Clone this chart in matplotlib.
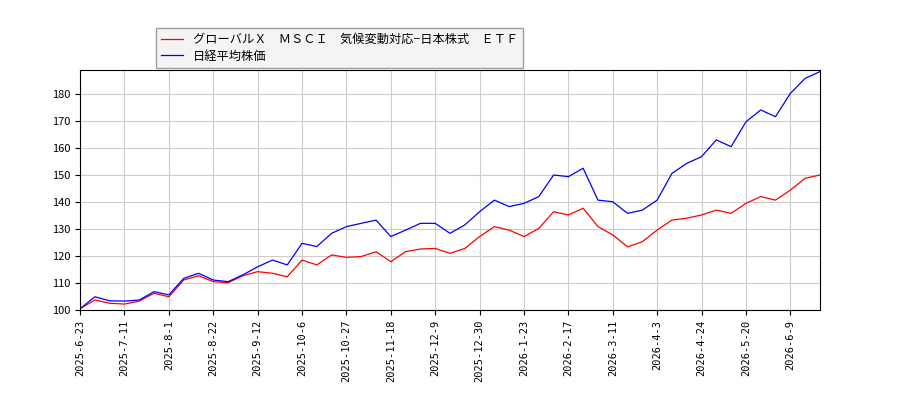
import matplotlib
matplotlib.use("Agg")
import matplotlib.pyplot as plt

plt.rcParams['font.family'] = ['Noto Sans CJK JP', 'DejaVu Sans']

tick_labels = ["2025-6-23", "2025-7-11", "2025-8-1", "2025-8-22", "2025-9-12", "2025-10-6",
               "2025-10-27", "2025-11-18", "2025-12-9", "2025-12-30", "2026-1-23", "2026-2-17",
               "2026-3-11", "2026-4-3", "2026-4-24", "2026-5-20", "2026-6-9"]
tick_index = [i * 15 for i in range(len(tick_labels))]

sample_index = [i * 5 for i in range(51)]
nikkei = [100.5, 104.9, 103.4, 103.3, 103.7, 106.8, 105.6, 111.7, 113.6, 111.1,
          110.5, 113.0, 116.0, 118.5, 116.7, 124.7, 123.5, 128.4, 130.9, 132.1,
          133.3, 127.2, 129.6, 132.1, 132.1, 128.4, 131.5, 136.4, 140.7, 138.3,
          139.5, 142.0, 150.0, 149.4, 152.5, 140.7, 140.1, 135.8, 137.0, 140.7,
          150.6, 154.3, 156.8, 163.0, 160.5, 169.7, 174.1, 171.6, 180.2, 185.8, 188.3]
etf = [100.5, 103.7, 102.5, 102.2, 103.3, 106.2, 104.9, 111.1, 112.7, 110.5,
       110.1, 112.7, 114.2, 113.6, 112.3, 118.5, 116.7, 120.4, 119.5, 119.8,
       121.6, 117.9, 121.6, 122.6, 122.8, 121.0, 122.8, 127.2, 130.9, 129.6,
       127.2, 130.2, 136.4, 135.2, 137.7, 130.9, 127.8, 123.4, 125.3, 129.6,
       133.3, 134.0, 135.2, 137.0, 135.8, 139.5, 142.0, 140.7, 144.4, 148.8, 150.0]

fig = plt.figure(figsize=(9, 4), dpi=100)
ax = fig.add_axes([0.089, 0.225, 0.822, 0.6])
ax.plot(sample_index, etf, color='red', lw=0.9, label='グローバルＸ　ＭＳＣＩ　気候変動対応−日本株式　ＥＴＦ')
ax.plot(sample_index, nikkei, color='blue', lw=0.9, label='日経平均株価')
ax.set_xlim(0, 250)
ax.set_ylim(100, 188.9)
ax.set_xticks(tick_index)
ax.set_xticklabels(tick_labels, rotation=90, fontsize=7.5, family=['DejaVu Sans Mono'])
ax.set_yticks(range(100, 190, 10))
ax.tick_params(axis='y', labelsize=8)
ax.grid(True, color='#cccccc', lw=0.8)
ax.set_axisbelow(True)
ax.legend(loc='upper left', bbox_to_anchor=(0.095, 1.2), fontsize=8.8, frameon=True,
          fancybox=False, edgecolor='#888888', facecolor='#f2f2f2', handlelength=1.8,
          borderpad=0.4, labelspacing=0.3)
fig.savefig('out.png')
